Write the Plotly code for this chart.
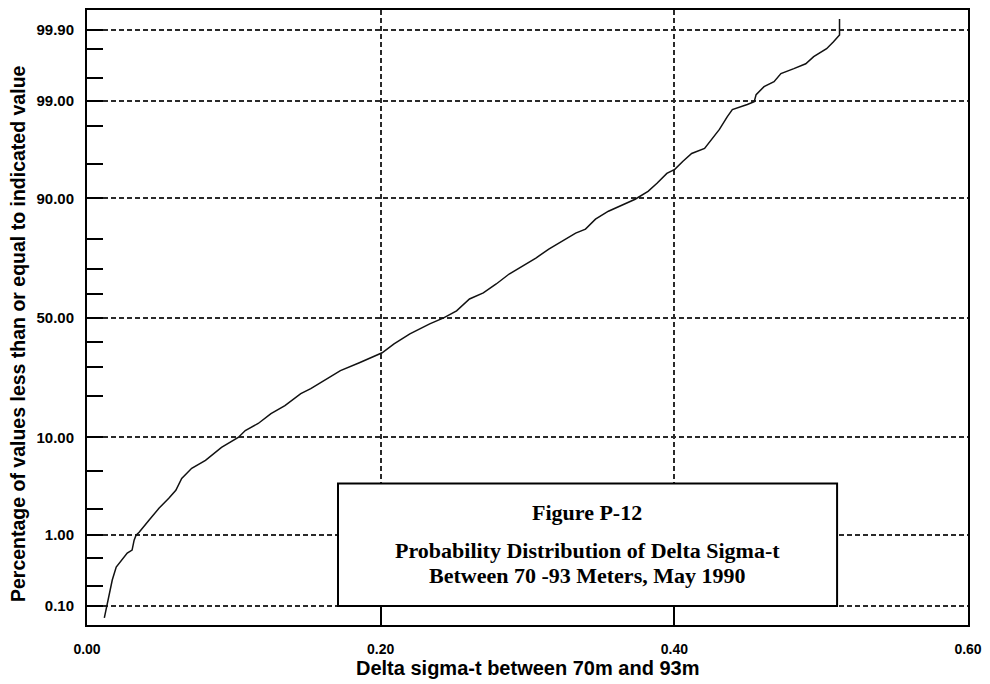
import plotly.graph_objects as go
from statistics import NormalDist

# ---- data (x = delta sigma-t, y = cumulative %) ----
delta_sigma_t = [0.0118, 0.0159, 0.0172, 0.0199, 0.0220, 0.0274, 0.0307, 0.0321, 0.0334, 0.0355,
                 0.0422, 0.0490, 0.0557, 0.0605, 0.0645, 0.0713, 0.0807, 0.0916, 0.1030, 0.1078,
                 0.1166, 0.1253, 0.1348, 0.1456, 0.1524, 0.1618, 0.1726, 0.1855, 0.2010, 0.2091,
                 0.2199, 0.2334, 0.2429, 0.2517, 0.2605, 0.2699, 0.2787, 0.2875, 0.2970, 0.3057,
                 0.3145, 0.3240, 0.3328, 0.3395, 0.3463, 0.3551, 0.3652, 0.3733, 0.3821, 0.3882,
                 0.3949, 0.4003, 0.4057, 0.4118, 0.4206, 0.4253, 0.4307, 0.4361, 0.4395, 0.4497,
                 0.4544, 0.4557, 0.4611, 0.4679, 0.4726, 0.4814, 0.4895, 0.4949, 0.5037, 0.5084,
                 0.5125, 0.5125]
pct_le = [0.065, 0.196, 0.248, 0.378, 0.43, 0.585, 0.64, 0.86, 0.99, 1.08,
          1.50, 2.06, 2.66, 3.23, 4.27, 5.34, 6.33, 8.24, 9.99, 11.37,
          12.88, 15.25, 17.36, 20.84, 22.40, 25.05, 28.57, 31.53, 35.42, 39.05,
          43.21, 47.45, 50.00, 52.98, 58.04, 60.53, 64.18, 68.08, 71.08, 73.93,
          76.95, 79.47, 81.81, 82.92, 85.49, 87.35, 88.84, 89.82, 91.26, 92.54,
          93.93, 94.43, 95.32, 96.10, 96.53, 97.21, 97.83, 98.45, 98.72, 98.89,
          98.977, 99.164, 99.341, 99.433, 99.558, 99.622, 99.677, 99.744, 99.804, 99.846,
          99.879, 99.932]

major_pct = [0.1, 1, 10, 50, 90, 99, 99.9]
major_labels = ["0.10", "1.00", "10.00", "50.00", "90.00", "99.00", "99.90"]
minor_pct = [0.2, 0.5, 2, 5, 20, 30, 40, 60, 70, 80, 95, 98, 99.5, 99.8]
x_ticks = [0.0, 0.2, 0.4, 0.6]
x_labels = ["0.00", "0.20", "0.40", "0.60"]

x_title = "Delta sigma-t between 70m and 93m"
y_title = "Percentage of values less than or equal to indicated value"
box_lines = ["Figure P-12", "Probability Distribution of Delta Sigma-t",
             "Between 70 -93 Meters, May 1990"]

nd = NormalDist()


def probit(p):
    return nd.inv_cdf(p / 100.0)


GRID = "#2a2a2a"
SANS = "Liberation Sans, Arial, sans-serif"
SERIF = "Liberation Serif, Times New Roman, serif"

fig = go.Figure()
fig.add_trace(go.Scatter(
    x=delta_sigma_t, y=[probit(p) for p in pct_le],
    mode="lines", line=dict(color="#111111", width=1.5),
    hoverinfo="skip", showlegend=False))

fig.update_layout(
    width=990, height=684,
    margin=dict(l=87, r=15, t=8, b=59),
    paper_bgcolor="white", plot_bgcolor="white",
    showlegend=False,
    xaxis=dict(
        range=[0, 0.6], tickmode="array", tickvals=x_ticks, ticktext=x_labels,
        ticks="inside", ticklen=18, tickwidth=1.5, tickcolor="black",
        showgrid=True, gridcolor=GRID, griddash="5px,3px", gridwidth=1.5,
        showline=True, linecolor="black", linewidth=2, mirror=True,
        zeroline=False, ticklabelstandoff=10,
        tickfont=dict(family=SANS, size=14, color="black", weight="bold"),
    ),
    yaxis=dict(
        range=[-3.292, 3.300], tickmode="array",
        tickvals=[probit(p) for p in major_pct], ticktext=major_labels,
        ticks="inside", ticklen=16, tickwidth=1.5, tickcolor="black",
        showgrid=True, gridcolor=GRID, griddash="5px,3px", gridwidth=1.5,
        showline=True, linecolor="black", linewidth=2, mirror=True,
        zeroline=False, ticklabelstandoff=8,
        tickfont=dict(family=SANS, size=15, color="black", weight="bold"),
        minor=dict(tickmode="array", tickvals=[probit(p) for p in minor_pct],
                   ticks="inside", ticklen=16, tickwidth=1.5, tickcolor="black",
                   showgrid=False),
    ),
)

# caption box
fig.add_shape(type="rect", xref="paper", yref="paper",
              x0=0.2849, x1=0.8514, y0=0.0308, y1=0.2301,
              line=dict(color="black", width=2), fillcolor="white", layer="above")

box_y = [0.1831, 0.1216, 0.0810]
for txt, yy in zip(box_lines, box_y):
    fig.add_annotation(xref="paper", yref="paper", x=0.5676, y=yy,
                       text=txt, showarrow=False, xanchor="center", yanchor="middle",
                       font=dict(family=SERIF, size=22, color="black", weight="bold"))

fig.add_annotation(xref="paper", yref="paper", x=0.5, y=-0.0697,
                   text=x_title, showarrow=False, xanchor="center", yanchor="middle",
                   font=dict(family=SANS, size=20, color="black", weight="bold"))
fig.add_annotation(xref="paper", yref="paper", x=-0.0777, y=0.474,
                   text=y_title, showarrow=False, xanchor="center", yanchor="middle",
                   textangle=-90,
                   font=dict(family=SANS, size=19.5, color="black", weight="bold"))

fig.write_html("out.html")
